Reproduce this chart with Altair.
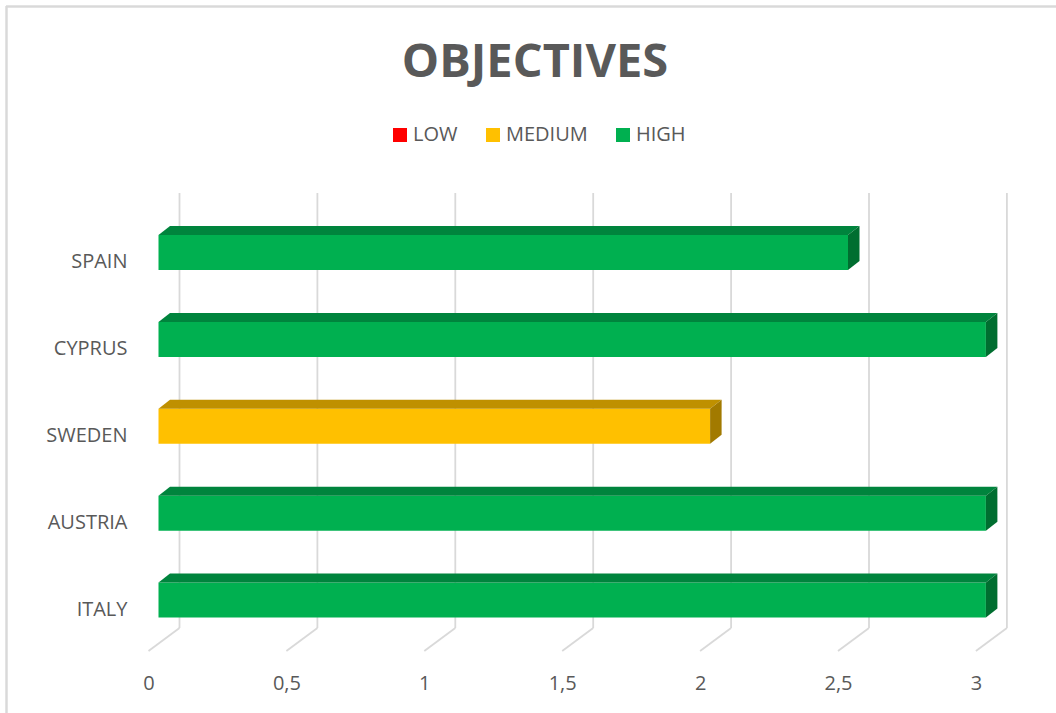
import json
import altair as alt
import pandas as pd

# --- chart data -----------------------------------------------------------
countries = ["SPAIN", "CYPRUS", "SWEDEN", "AUSTRIA", "ITALY"]
scores = [2.5, 3, 2, 3, 3]
levels = ["HIGH", "HIGH", "MEDIUM", "HIGH", "HIGH"]

level_names = ["LOW", "MEDIUM", "HIGH"]
front_colors = ["#FF0000", "#FFC000", "#00B050"]
top_colors = ["#BF0000", "#BF9000", "#00843D"]
side_colors = ["#A00000", "#A27A00", "#006E30"]

tick_values = [0, 0.5, 1, 1.5, 2, 2.5, 3]

# --- 3D look (pixel sizes converted to data units) -------------------------
PX_PER_X = 275.8          # pixels per score unit
PX_PER_ROW = 86.9         # pixels per category row
HALF_BAR = 17.5 / PX_PER_ROW
DEPTH_X = 11.5 / PX_PER_X
DEPTH_Y = 9.0 / PX_PER_ROW
GRID_BACK_X = 21 / PX_PER_X
GRID_FRONT_X = -10 / PX_PER_X
GRID_TOP_Y = -0.685
FLOOR_BACK_Y = 4.321
FLOOR_FRONT_Y = 4.586

X_DOMAIN = [-18.5 / PX_PER_X, -18.5 / PX_PER_X + 880 / PX_PER_X]
Y_DOMAIN = [-62.5 / PX_PER_ROW, -62.5 / PX_PER_ROW + 470 / PX_PER_ROW]

top_of = dict(zip(level_names, top_colors))
side_of = dict(zip(level_names, side_colors))

bars = pd.DataFrame({
    "country": countries,
    "row": range(len(countries)),
    "score": scores,
    "level": levels,
})
bars["y_top"] = bars["row"] - HALF_BAR
bars["y_bot"] = bars["row"] + HALF_BAR

top_rows, side_rows = [], []
for _, b in bars.iterrows():
    t, bt, v = b["y_top"], b["y_bot"], b["score"]
    c = top_of[b["level"]]
    for x, y, y2 in [(0, t, t), (DEPTH_X, t - DEPTH_Y, t),
                     (v, t - DEPTH_Y, t), (v + DEPTH_X, t - DEPTH_Y, t - DEPTH_Y)]:
        top_rows.append({"country": b["country"], "x": x, "y": y, "y2": y2, "fill": c})
    s = side_of[b["level"]]
    for x, y, y2 in [(v, t, bt), (v + DEPTH_X, t - DEPTH_Y, bt - DEPTH_Y)]:
        side_rows.append({"country": b["country"], "x": x, "y": y, "y2": y2, "fill": s})
top_faces = pd.DataFrame(top_rows)
side_faces = pd.DataFrame(side_rows)

grid = pd.DataFrame({"v": tick_values})
grid["back"] = grid["v"] + GRID_BACK_X
grid["front"] = grid["v"] + GRID_FRONT_X
grid["top"] = GRID_TOP_Y
grid["floor_back"] = FLOOR_BACK_Y
grid["floor_front"] = FLOOR_FRONT_Y

TEXT = "#595959"
FONT = "Open Sans"

x_scale = alt.Scale(domain=X_DOMAIN, nice=False, zero=False)
y_scale = alt.Scale(domain=Y_DOMAIN, nice=False, zero=False, reverse=True)

label_expr = json.dumps(countries) + "[datum.value]"

x_axis = alt.Axis(values=tick_values, title=None, grid=False, domain=False, ticks=False,
                  labelExpr="replace(datum.label, '.', ',')", format="~g",
                  labelFontSize=20, labelColor=TEXT, labelFont=FONT,
                  labelOffset=-10, labelPadding=13)
y_axis = alt.Axis(values=list(range(len(countries))), title=None, grid=False,
                  domain=False, ticks=False, labelExpr=label_expr,
                  labelFontSize=20, labelColor=TEXT, labelFont=FONT,
                  labelOffset=9, labelPadding=13, labelAlign="right")

# gridlines: vertical back wall lines and slanted floor lines
grid_up = alt.Chart(grid).mark_rule(color="#D9D9D9", strokeWidth=1.8).encode(
    x=alt.X("back:Q", scale=x_scale, axis=x_axis),
    y=alt.Y("top:Q", scale=y_scale, axis=y_axis),
    y2="floor_back:Q",
)
grid_floor = alt.Chart(grid).mark_rule(color="#D9D9D9", strokeWidth=1.8).encode(
    x=alt.X("front:Q", scale=x_scale),
    x2="back:Q",
    y=alt.Y("floor_front:Q", scale=y_scale),
    y2="floor_back:Q",
)

front = alt.Chart(bars).mark_rect().encode(
    x=alt.X("zero:Q", scale=x_scale),
    x2="score:Q",
    y=alt.Y("y_top:Q", scale=y_scale),
    y2="y_bot:Q",
    color=alt.Color(
        "level:N",
        scale=alt.Scale(domain=level_names, range=front_colors),
        legend=alt.Legend(
            orient="none", legendX=250, legendY=-65, direction="horizontal",
            title=None, symbolType="square", symbolSize=196, symbolStrokeWidth=0,
            labelFontSize=20, labelColor=TEXT, labelFont=FONT, labelOffset=3,
            columnPadding=25, padding=0,
        ),
    ),
).transform_calculate(zero="0")

top = alt.Chart(top_faces).mark_area(orient="vertical").encode(
    x=alt.X("x:Q", scale=x_scale),
    y=alt.Y("y:Q", scale=y_scale, stack=None),
    y2="y2:Q",
    detail="country:N",
    fill=alt.Fill("fill:N", scale=None),
)
side = alt.Chart(side_faces).mark_area(orient="vertical").encode(
    x=alt.X("x:Q", scale=x_scale),
    y=alt.Y("y:Q", scale=y_scale, stack=None),
    y2="y2:Q",
    detail="country:N",
    fill=alt.Fill("fill:N", scale=None),
)

# chart-area frame on the left and top edges
frame_left = alt.Chart(bars).mark_rule(color="#D9D9D9", strokeWidth=1.5).encode(
    x=alt.value(-133.5), y=alt.value(-184), y2=alt.value(523)
)
frame_top = alt.Chart(bars).mark_rule(color="#D9D9D9", strokeWidth=1.5).encode(
    x=alt.value(-134), x2=alt.value(916), y=alt.value(-183.5)
)

chart = alt.layer(
    grid_up, grid_floor, front, top, side, frame_left, frame_top
).properties(
    width=880,
    height=470,
    padding={"left": 140, "top": 190, "right": 36, "bottom": 53},
    autosize=alt.AutoSizeParams(type="none"),
    title=alt.Title("OBJECTIVES", fontSize=47, fontWeight="bold", color=TEXT,
                    font=FONT, anchor="middle", dx=-45, offset=-82),
    background="white",
).configure(
    font=FONT,
    view=alt.ViewConfig(strokeWidth=0, stroke="transparent"),
)

chart.save("out.html", embed_options={"renderer": "svg", "actions": False})
